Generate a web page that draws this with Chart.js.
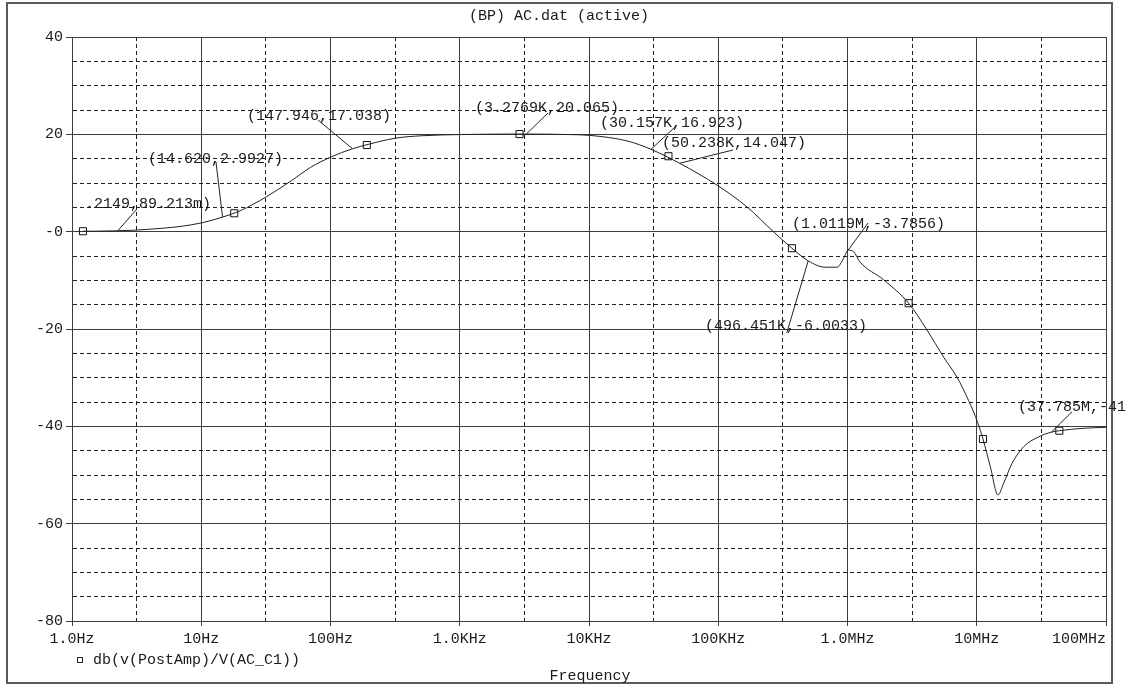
<!DOCTYPE html>
<html>
<head>
<meta charset="utf-8">
<title>(BP) AC.dat (active)</title>
<script src="https://cdn.jsdelivr.net/npm/chart.js@4.4.0/dist/chart.umd.min.js"></script>
<style>
  html, body { margin: 0; padding: 0; background: #fff; }
  canvas { display: block; }
</style>
</head>
<body>
<canvas id="acChart" width="1144" height="689"></canvas>
<script>
// Curva de ganho db(v(PostAmp)/V(AC_C1))
const freqHz = [1.2149, 1.5, 2, 3, 4, 5, 7, 10, 14.62, 20, 31.6, 50, 70, 100, 147.946, 200, 316, 500,
    1000, 3276.9, 7000, 10000, 20000, 30157, 50238, 100000, 166700, 267000, 371500, 496451, 673000,
    830000, 933000, 1011900, 1114000, 1247000, 1905000, 2972000, 4121000, 5546000, 7031000, 8650000,
    10160000, 11170000, 12740000, 14590000, 16140000, 18750000, 23070000, 31050000, 37785000,
    43550000, 67140000, 100000000];
const gainDb = [0.089, 0.1, 0.15, 0.3, 0.5, 0.7, 1.1, 1.8, 2.99, 4.3, 7.1, 10.5, 13.2, 15.3, 17.04, 18.0, 19.2, 19.7,
    19.95, 20.065, 19.95, 19.8, 18.6, 16.92, 14.05, 9.4, 5.1, 0, -3.4, -6.0, -7.3,
    -7.3, -5.5, -3.79, -4.1, -6.2, -9.9, -14.7, -20.2, -25.8, -29.9, -34.7,
    -39.2, -42.6, -48.3, -54.1, -51.7, -47.6, -44.2, -42.0, -41.2,
    -40.9, -40.4, -40.2];

// Símbolos quadrados sobre o traço
const markerHz = [1.2149, 18.0, 191, 2900, 41200, 371500, 2972000, 11170000, 43550000];
const markerDb = [0.089, 3.78, 17.8, 20.05, 15.5, -3.4, -14.7, -42.6, -40.9];

// Eixos
const xTickValues = [1, 3.162, 10, 31.62, 100, 316.2, 1000, 3162, 10000, 31620, 100000, 316200,
    1000000, 3162000, 10000000, 31620000, 100000000];
const xTickLabels = ['1.0Hz', '', '10Hz', '', '100Hz', '', '1.0KHz', '', '10KHz', '', '100KHz', '',
    '1.0MHz', '', '10MHz', '', '100MHz      '];
const yTickValues = [-80, -75, -70, -65, -60, -55, -50, -45, -40, -35, -30, -25, -20, -15, -10, -5,
    0, 5, 10, 15, 20, 25, 30, 35, 40];
const yTickLabels = ['-80', '', '', '', '-60', '', '', '', '-40', '', '', '', '-20', '', '', '',
    '-0', '', '', '', '20', '', '', '', '40'];

// Rótulos de marcação (texto, linha e ponto em coordenadas do gráfico)
const annoText = ['.2149,89.213m)', '(14.620,2.9927)', '(147.946,17.038)', '(3.2769K,20.065)',
    '(30.157K,16.923)', '(50.238K,14.047)', '(1.0119M,-3.7856)', '(496.451K,-6.0033)', '(37.785M,-41'];
const annoTextHz = [1.26, 3.87, 22.6, 1312, 12170, 36700, 372000, 79000, 20850000];
const annoTextDb = [5.69, 14.93, 23.77, 25.41, 22.33, 18.22, 1.58, -19.32, -35.96];
const annoLineHz = [3.18, 13.0, 80, 4819, 46300, 130000, 1442000, 339000, 54600000];
const annoLineDb = [4.65, 14.32, 22.95, 24.39, 21.5, 16.78, 1.79, -20.8, -37.0];
const annoPointHz = [2.27, 14.62, 147.946, 3276.9, 30157, 50238, 1011900, 496451, 37785000];
const annoPointDb = [0.25, 2.99, 17.04, 20.065, 16.92, 14.05, -3.79, -6.0, -41.2];

const monoFont = "'Liberation Mono', 'Courier New', monospace";
const textColor = '#1a1a1a';

const pspiceDecor = {
    id: 'pspiceDecor',
    beforeDraw(chart) {
        const c = chart.ctx;
        c.save();
        c.fillStyle = '#fff';
        c.fillRect(0, 0, chart.width, chart.height);
        c.strokeStyle = '#5a5a5a';
        c.lineWidth = 2;
        c.strokeRect(7, 3, 1105, 680);
        c.restore();
    },
    afterDraw(chart) {
        const c = chart.ctx;
        const xs = chart.scales.x, ys = chart.scales.y;
        c.save();
        c.font = '15px ' + monoFont;
        c.fillStyle = textColor;
        c.textBaseline = 'middle';

        // título e rótulo do eixo
        c.textAlign = 'center';
        c.fillText('(BP) AC.dat (active)', 559, 16);
        c.fillText('Frequency', 590, 676);

        // legenda
        c.textAlign = 'left';
        c.strokeStyle = '#222';
        c.lineWidth = 1;
        c.strokeRect(77.5, 657.5, 5, 5);
        c.fillText('db(v(PostAmp)/V(AC_C1))', 93, 660);

        // marcações
        annoText.forEach((t, i) => {
            c.beginPath();
            c.moveTo(xs.getPixelForValue(annoLineHz[i]), ys.getPixelForValue(annoLineDb[i]));
            c.lineTo(xs.getPixelForValue(annoPointHz[i]), ys.getPixelForValue(annoPointDb[i]));
            c.stroke();
            c.fillText(t, xs.getPixelForValue(annoTextHz[i]), ys.getPixelForValue(annoTextDb[i]));
        });
        c.restore();
    }
};

const solidColor = '#3c3c3c';
const dashColor = '#1e1e1e';

const config = {
    type: 'line',
    data: {
        datasets: [{
            label: 'db(v(PostAmp)/V(AC_C1))',
            data: freqHz.map((f, i) => ({ x: f, y: gainDb[i] })),
            borderColor: '#222',
            borderWidth: 1,
            pointRadius: 0,
            cubicInterpolationMode: 'monotone'
        },
        {
            label: 'markers',
            data: markerHz.map((f, i) => ({ x: f, y: markerDb[i] })),
            showLine: false,
            pointStyle: 'rect',
            pointRadius: 5,
            pointBorderWidth: 1,
            pointBorderColor: '#111',
            pointBackgroundColor: 'rgba(0,0,0,0)'
        }]
    },
    options: {
        responsive: false,
        animation: false,
        devicePixelRatio: 1,
        layout: { padding: { left: 7, top: 37, right: 38, bottom: 0 } },
        plugins: {
            legend: { display: false },
            tooltip: { enabled: false }
        },
        scales: {
            x: {
                type: 'logarithmic',
                min: 1,
                max: 100000000,
                afterBuildTicks: (s) => { s.ticks = xTickValues.map(v => ({ value: v })); },
                afterFit: (s) => { s.height = 68; s.paddingLeft = 0; s.paddingRight = 0; },
                ticks: {
                    autoSkip: false,
                    maxRotation: 0,
                    minRotation: 0,
                    padding: 4,
                    color: textColor,
                    font: { family: monoFont, size: 15 },
                    callback: (v, i) => xTickLabels[i]
                },
                grid: {
                    color: (ctx) => ctx.index % 2 === 0 ? solidColor : dashColor,
                    tickColor: (ctx) => ctx.index % 2 === 0 ? solidColor : 'rgba(0,0,0,0)',
                    tickLength: 5,
                    lineWidth: 1
                },
                border: {
                    color: solidColor,
                    dash: (ctx) => (ctx.tick && ctx.index % 2 === 1) ? [4, 3] : []
                }
            },
            y: {
                min: -80,
                max: 40,
                afterBuildTicks: (s) => { s.ticks = yTickValues.map(v => ({ value: v })); },
                afterFit: (s) => { s.width = 65; s.paddingTop = 0; s.paddingBottom = 0; },
                ticks: {
                    autoSkip: false,
                    padding: 3,
                    color: textColor,
                    font: { family: monoFont, size: 15 },
                    callback: (v, i) => yTickLabels[i]
                },
                grid: {
                    color: (ctx) => (ctx.tick && ctx.tick.value % 20 !== 0) ? dashColor : solidColor,
                    tickColor: (ctx) => (ctx.tick && ctx.tick.value % 20 !== 0) ? 'rgba(0,0,0,0)' : solidColor,
                    tickLength: 6,
                    lineWidth: 1
                },
                border: {
                    color: solidColor,
                    dash: (ctx) => (ctx.tick && ctx.tick.value % 20 !== 0) ? [4, 3] : []
                }
            }
        }
    },
    plugins: [pspiceDecor]
};

new Chart(document.getElementById('acChart'), config);
</script>
</body>
</html>
